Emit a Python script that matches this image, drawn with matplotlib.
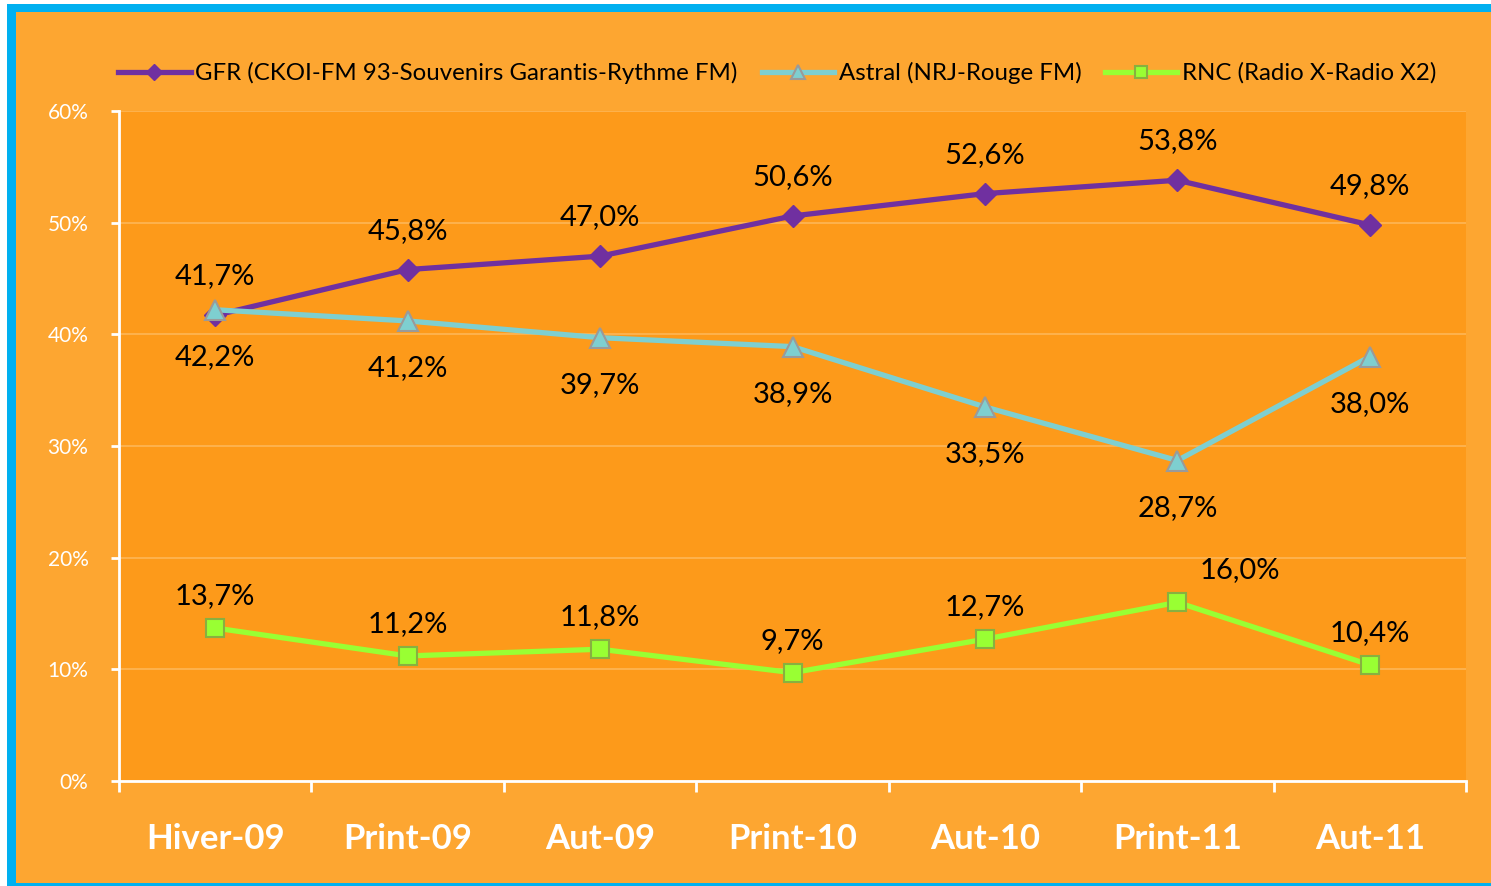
import matplotlib.pyplot as plt
from matplotlib.patches import Rectangle

periods = ['Hiver-09', 'Print-09', 'Aut-09', 'Print-10', 'Aut-10', 'Print-11', 'Aut-11']
gfr = [41.7, 45.8, 47.0, 50.6, 52.6, 53.8, 49.8]
astral = [42.2, 41.2, 39.7, 38.9, 33.5, 28.7, 38.0]
rnc = [13.7, 11.2, 11.8, 9.7, 12.7, 16.0, 10.4]
names = ['GFR (CKOI-FM 93-Souvenirs Garantis-Rythme FM)',
         'Astral (NRJ-Rouge FM)',
         'RNC (Radio X-Radio X2)']

W, H = 1491, 886
fig = plt.figure(figsize=(W / 100, H / 100), dpi=100, facecolor='white')
# blue frame + orange background
fig.add_artist(Rectangle((7 / W, 0), 1, 1 - 4 / H, transform=fig.transFigure,
                         facecolor='#00B0F0', edgecolor='none', zorder=-3))
fig.add_artist(Rectangle((16 / W, 3 / H), 1, 1 - 15 / H, transform=fig.transFigure,
                         facecolor='#FDA631', edgecolor='none', zorder=-2))

ax = fig.add_axes([119 / W, 1 - 781 / H, (1466 - 119) / W, (781 - 111) / H])
ax.set_facecolor('#FD9A1A')

x = list(range(len(periods)))
ax.plot(x, gfr, color='#7030A0', lw=3.8, marker='D', ms=11,
        mfc='#7030A0', mec='#7030A0', label=names[0], zorder=3)
ax.plot(x, astral, color='#7ECFD0', lw=3.8, marker='^', ms=14,
        mfc='#7ECFD0', mec='#9A9A9A', mew=1.5, label=names[1], zorder=4)
ax.plot(x, rnc, color='#99FF33', lw=3.8, marker='s', ms=13,
        mfc='#99FF33', mec='#88B040', mew=1.5, label=names[2], zorder=3)

lab_font = dict(fontsize=21, family='Lato', color='black')
for i in x:
    ax.annotate(f'{gfr[i]:.1f}%'.replace('.', ','), (i, gfr[i]), xytext=(0, 28),
                textcoords='offset points', ha='center', va='center', **lab_font)
    ax.annotate(f'{astral[i]:.1f}%'.replace('.', ','), (i, astral[i]), xytext=(0, -34),
                textcoords='offset points', ha='center', va='center', **lab_font)
    dx = 45 if i == 5 else 0
    ax.annotate(f'{rnc[i]:.1f}%'.replace('.', ','), (i, rnc[i]), xytext=(dx, 23),
                textcoords='offset points', ha='center', va='center', **lab_font)

ax.set_xlim(-0.5, len(periods) - 0.5)
ax.set_ylim(0, 60)
ax.set_yticks(range(0, 70, 10))
ax.set_yticklabels([f'{v}%' for v in range(0, 70, 10)], color='white',
                   fontsize=15, family='Lato')
ax.set_xticks(x)
ax.set_xticklabels(periods, color='white', fontsize=25, fontweight='bold', family='Lato')
ax.set_xticks([i - 0.5 for i in range(len(periods) + 1)], minor=True)
ax.tick_params(axis='x', which='major', length=0, pad=30)
ax.tick_params(axis='x', which='minor', length=8, width=2, color='white', direction='out')
ax.tick_params(axis='y', length=6, width=2, color='white', direction='out', pad=16)

ax.grid(axis='y', color='#FDB452', lw=1.3, zorder=0)
for s in ['top', 'right']:
    ax.spines[s].set_visible(False)
for s in ['left', 'bottom']:
    ax.spines[s].set_color('white')
    ax.spines[s].set_linewidth(2)

leg = fig.legend(loc='center', bbox_to_anchor=(0.5215, 1 - 73 / H), ncol=3, frameon=False,
                 prop={'family': 'Lato', 'size': 17.3}, handlelength=3.0,
                 columnspacing=1.0, handletextpad=0.2, markerscale=0.7)

fig.savefig('out.png', dpi=100, facecolor=fig.get_facecolor())
